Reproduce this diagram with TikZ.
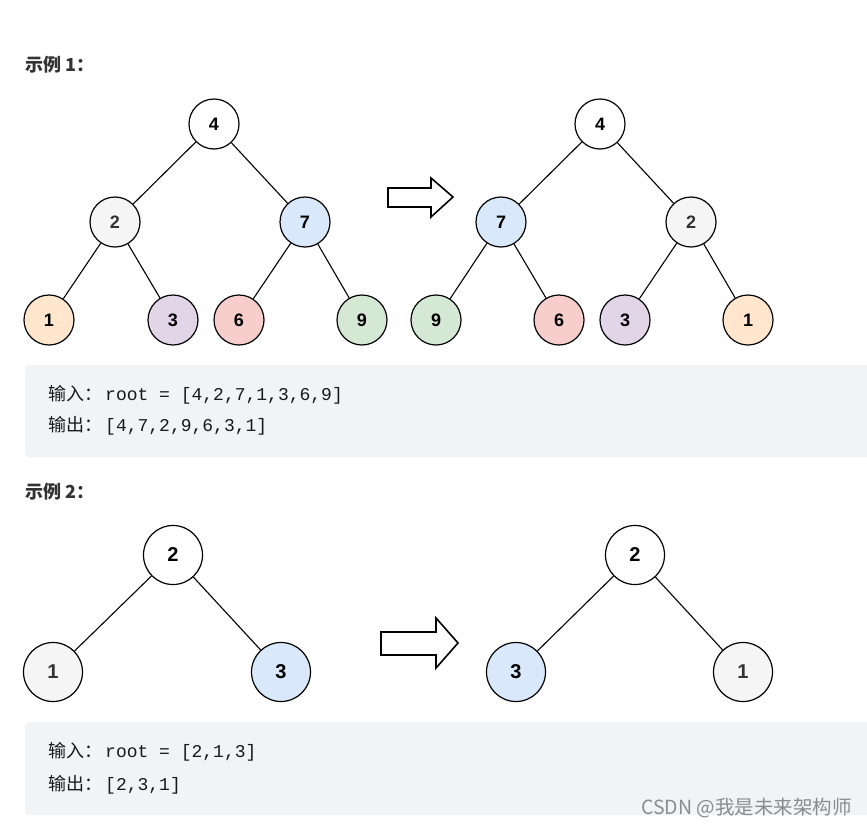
\documentclass[tikz,border=0pt]{standalone}
\usepackage{fontspec}
\usepackage{tikz}
\setmainfont{Liberation Sans}
\newfontfamily\cjk{Noto Sans CJK SC}
\newfontfamily\codefont{Liberation Mono}
\newcommand{\smalld}{50pt}
\newcommand{\bigd}{59pt}
\definecolor{boxGray}{HTML}{F2F3F5}
\definecolor{fGray}{HTML}{F5F5F5}
\definecolor{fBlue}{HTML}{DAE8FC}
\definecolor{fOrange}{HTML}{FFE6CC}
\definecolor{fPurple}{HTML}{E1D5E7}
\definecolor{fRed}{HTML}{F8CECC}
\definecolor{fGreen}{HTML}{D5E8D4}
\definecolor{txtDark}{HTML}{333333}
\usetikzlibrary{positioning}
\tikzset{
  x=1pt, y=-1pt,
  font=\bfseries\fontsize{18}{18}\selectfont,
  tnode/.style={draw,line width=1.2pt,fill=white,shape=circle,minimum size=\smalld,inner sep=0},
  bnode/.style={tnode,minimum size=\bigd,font=\bfseries\fontsize{20}{20}\selectfont},
  edge/.style={draw,line width=1.1pt},
  blockarrow/.style={draw,line width=1.6pt,fill=white,line join=miter},
  codebox/.style={fill=boxGray,rounded corners=4pt},
  codeline/.style={anchor=west,inner sep=0,text=black!90,font=\normalfont\fontsize{18}{18}\selectfont},
  title/.style={anchor=west,inner sep=0,text=txtDark,font=\cjk\bfseries\fontsize{18}{18}\selectfont},
}
\begin{document}
\begin{tikzpicture}
  \clip (0,0) rectangle (867,830);
  % example 1
  \node (t1) [title] at (25,65) {示例 1：};
  \node (a4) [tnode] at (214,124) {4};
  \node (a2) [tnode,fill=fGray,text=txtDark] at (115,222) {2};
  \node (a7) [tnode,fill=fBlue] at (305,222) {7};
  \node (a1) [tnode,fill=fOrange] at (49,320) {1};
  \node (a3) [tnode,fill=fPurple] at (173,320) {3};
  \node (a6) [tnode,fill=fRed] at (239,320) {6};
  \node (a9) [tnode,fill=fGreen] at (362,320) {9};
  \path [edge] (a4) -- (a2) (a4) -- (a7) (a2) -- (a1) (a2) -- (a3) (a7) -- (a6) (a7) -- (a9);
  \draw [blockarrow] (388,188) -- (431,188) -- (431,178) -- (453,197) -- (431,217) -- (431,207) -- (388,207) -- cycle;
  \node (b4) [tnode] at (600,124) {4};
  \node (b7) [tnode,fill=fBlue] at (501,222) {7};
  \node (b2) [tnode,fill=fGray,text=txtDark] at (691,222) {2};
  \node (b9) [tnode,fill=fGreen] at (436,320) {9};
  \node (b6) [tnode,fill=fRed] at (559,320) {6};
  \node (b3) [tnode,fill=fPurple] at (625,320) {3};
  \node (b1) [tnode,fill=fOrange] at (748,320) {1};
  \path [edge] (b4) -- (b7) (b4) -- (b2) (b7) -- (b9) (b7) -- (b6) (b2) -- (b3) (b2) -- (b1);
  \path [codebox] (25,365) rectangle (880,457);
  \node (in1) [codeline] at (48,395) {\cjk 输入：\hspace{3pt}\codefont root = [4,2,7,1,3,6,9]};
  \node (out1) [codeline] at (48,426) {\cjk 输出：\hspace{3pt}\codefont [4,7,2,9,6,3,1]};
  % example 2
  \node (t2) [title] at (25,492) {示例 2：};
  \node (c2) [bnode] at (173,555) {2};
  \node (c1) [bnode,fill=fGray,text=txtDark] at (53,672) {1};
  \node (c3) [bnode,fill=fBlue] at (281,672) {3};
  \path [edge] (c2) -- (c1) (c2) -- (c3);
  \draw [blockarrow] (381,632) -- (436,632) -- (436,618) -- (458,643) -- (436,668) -- (436,655) -- (381,655) -- cycle;
  \node (d2) [bnode] at (635,555) {2};
  \node (d3) [bnode,fill=fBlue] at (516,672) {3};
  \node (d1) [bnode,fill=fGray,text=txtDark] at (743,672) {1};
  \path [edge] (d2) -- (d3) (d2) -- (d1);
  \path [codebox] (25,722) rectangle (880,815);
  \node (in2) [codeline] at (48,752) {\cjk 输入：\hspace{3pt}\codefont root = [2,1,3]};
  \node (out2) [codeline] at (48,785) {\cjk 输出：\hspace{3pt}\codefont [2,3,1]};
  \node (mark) [anchor=east,inner sep=0,text=black!45,font=\cjk\fontsize{19.5}{19.5}\selectfont] at (852,808) {CSDN @我是未来架构师};
\end{tikzpicture}
\end{document}
